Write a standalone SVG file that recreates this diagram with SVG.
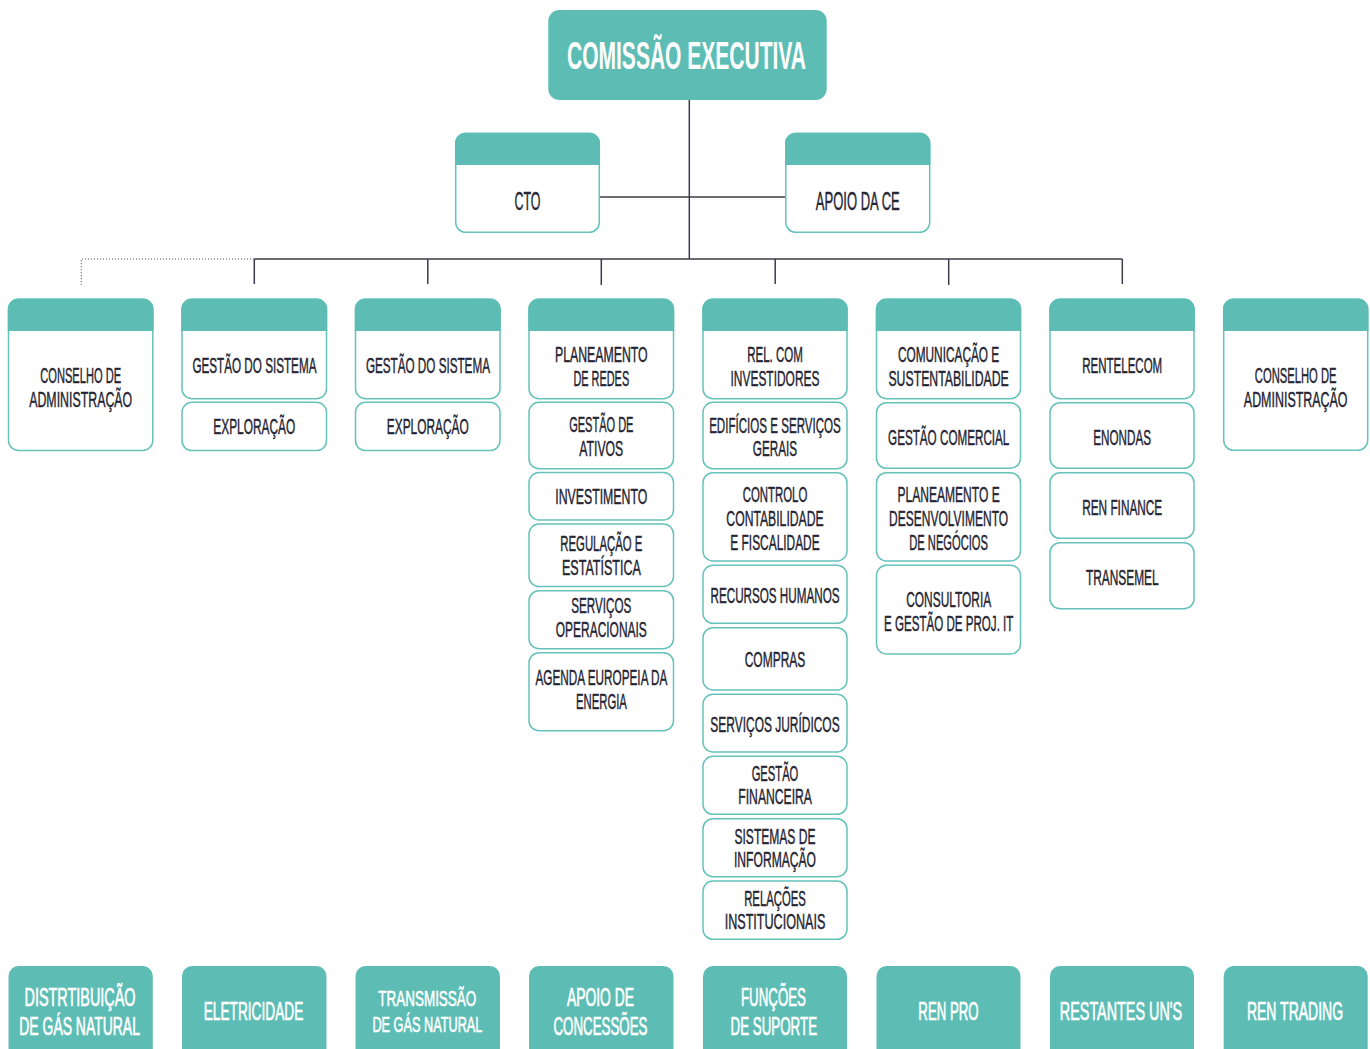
<svg xmlns="http://www.w3.org/2000/svg" width="1370" height="1049" viewBox="0 0 1370 1049">
<style>
.box{fill:#fff;stroke:#66c2ba;stroke-width:1.5}
.hd{fill:#5dbdb5}
.solid{fill:#5dbdb5}
text{transform-box:fill-box;transform-origin:center;transform:scaleX(.5)}
.t{font-family:"Liberation Sans",Arial,sans-serif;font-size:22px;fill:#262533;stroke:#262533;stroke-width:.45;text-anchor:middle}
.t2{font-family:"Liberation Sans",Arial,sans-serif;font-size:26px;fill:#262533;stroke:#262533;stroke-width:.45;text-anchor:middle}
.w{font-family:"Liberation Sans",Arial,sans-serif;font-size:26px;fill:#fff;stroke:#fff;stroke-width:.7;text-anchor:middle}
.ws{font-family:"Liberation Sans",Arial,sans-serif;font-size:22px;fill:#fff;stroke:#fff;stroke-width:.6;text-anchor:middle}
.ce{font-family:"Liberation Sans",Arial,sans-serif;font-size:38px;font-weight:bold;fill:#fff;text-anchor:middle}
.ln{stroke:#3b3a48;stroke-width:1.5;fill:none}
.dot{stroke:#555;stroke-width:1.2;stroke-dasharray:1 2;fill:none}
</style>

<g id="connectors">
<line class="ln" x1="689.3" y1="100" x2="689.3" y2="259"/>
<line class="ln" x1="599.5" y1="197" x2="785.5" y2="197"/>
<line class="ln" x1="254.3" y1="259" x2="1122.3" y2="259"/>
<line class="ln" x1="254.3" y1="259" x2="254.3" y2="284"/>
<line class="ln" x1="427.8" y1="259" x2="427.8" y2="284"/>
<line class="ln" x1="601.3" y1="259" x2="601.3" y2="285"/>
<line class="ln" x1="775.2" y1="259" x2="775.2" y2="284"/>
<line class="ln" x1="948.7" y1="259" x2="948.7" y2="285"/>
<line class="ln" x1="1122.3" y1="259" x2="1122.3" y2="284"/>
<polyline class="dot" points="254,259 81.3,259 81.3,285"/>
</g>

<g id="comissao">
<rect class="solid" x="548.3" y="10" width="278.4" height="90" rx="11"/>
<text class="ce" x="686.5" y="69" textLength="478" lengthAdjust="spacingAndGlyphs">COMISSÃO EXECUTIVA</text>
</g>

<g id="cto">
<rect class="box" x="455.7" y="133.3" width="143.6" height="99" rx="10"/>
<path class="hd" d="M455 165 V143.3 A10 10 0 0 1 465.7 133.3 H589.3 A10 10 0 0 1 600 143.3 V165 Z"/>
<text class="t2" x="527.5" y="210" textLength="52" lengthAdjust="spacingAndGlyphs">CTO</text>
</g>

<g id="apoio-ce">
<rect class="box" x="785.8" y="133.3" width="143.9" height="99" rx="10"/>
<path class="hd" d="M785 165 V143.3 A10 10 0 0 1 795.8 133.3 H919.7 A10 10 0 0 1 930.4 143.3 V165 Z"/>
<text class="t2" x="857.8" y="210" textLength="168" lengthAdjust="spacingAndGlyphs">APOIO DA CE</text>
</g>

<!-- Column 1 -->
<g id="conselho-1">
<rect class="box" x="8.5" y="299" width="144.3" height="151.5" rx="10"/>
<path class="hd" d="M7.8 331 V309 A10 10 0 0 1 18.5 299 H142.8 A10 10 0 0 1 153.5 309 V331 Z"/>
<text class="t" x="80.7" y="383.3" textLength="162" lengthAdjust="spacingAndGlyphs">CONSELHO DE</text>
<text class="t" x="80.7" y="407.3" textLength="206" lengthAdjust="spacingAndGlyphs">ADMINISTRAÇÃO</text>
</g>

<!-- Column 2 -->
<g id="gestao-sistema-1">
<rect class="box" x="182" y="299" width="144.5" height="99.7" rx="10"/>
<path class="hd" d="M181.3 331 V309 A10 10 0 0 1 192 299 H316.5 A10 10 0 0 1 327.2 309 V331 Z"/>
<text class="t" x="254.3" y="373.3" textLength="248" lengthAdjust="spacingAndGlyphs">GESTÃO DO SISTEMA</text>
</g>
<g id="exploracao-1">
<rect class="box" x="182" y="402.3" width="144.5" height="48.3" rx="10"/>
<text class="t" x="254.3" y="434.3" textLength="164" lengthAdjust="spacingAndGlyphs">EXPLORAÇÃO</text>
</g>

<!-- Column 3 -->
<g id="gestao-sistema-2">
<rect class="box" x="355.5" y="299" width="144.5" height="99.7" rx="10"/>
<path class="hd" d="M354.8 331 V309 A10 10 0 0 1 365.5 299 H490 A10 10 0 0 1 500.7 309 V331 Z"/>
<text class="t" x="427.8" y="373.3" textLength="248" lengthAdjust="spacingAndGlyphs">GESTÃO DO SISTEMA</text>
</g>
<g id="exploracao-2">
<rect class="box" x="355.5" y="402.3" width="144.5" height="48.3" rx="10"/>
<text class="t" x="427.8" y="434.3" textLength="164" lengthAdjust="spacingAndGlyphs">EXPLORAÇÃO</text>
</g>

<!-- Column 4 -->
<g id="planeamento-redes">
<rect class="box" x="529" y="299" width="144.5" height="99.7" rx="10"/>
<path class="hd" d="M528.3 331 V309 A10 10 0 0 1 539 299 H663.5 A10 10 0 0 1 674.2 309 V331 Z"/>
<text class="t" x="601.3" y="362.3" textLength="185.4" lengthAdjust="spacingAndGlyphs">PLANEAMENTO</text>
<text class="t" x="601.3" y="385.7" textLength="111.4" lengthAdjust="spacingAndGlyphs">DE REDES</text>
</g>
<g id="gestao-ativos">
<rect class="box" x="529" y="402.3" width="144.5" height="66.4" rx="10"/>
<text class="t" x="601.3" y="432.3" textLength="128.6" lengthAdjust="spacingAndGlyphs">GESTÃO DE</text>
<text class="t" x="601.3" y="455.7" textLength="88" lengthAdjust="spacingAndGlyphs">ATIVOS</text>
</g>
<g id="investimento">
<rect class="box" x="529" y="472.5" width="144.5" height="47.5" rx="10"/>
<text class="t" x="601.3" y="504" textLength="184" lengthAdjust="spacingAndGlyphs">INVESTIMENTO</text>
</g>
<g id="regulacao">
<rect class="box" x="529" y="524" width="144.5" height="62.5" rx="10"/>
<text class="t" x="601.3" y="550.7" textLength="164" lengthAdjust="spacingAndGlyphs">REGULAÇÃO E</text>
<text class="t" x="601.3" y="574.7" textLength="158" lengthAdjust="spacingAndGlyphs">ESTATÍSTICA</text>
</g>
<g id="servicos-operacionais">
<rect class="box" x="529" y="590.7" width="144.5" height="58" rx="10"/>
<text class="t" x="601.3" y="613.3" textLength="120" lengthAdjust="spacingAndGlyphs">SERVIÇOS</text>
<text class="t" x="601.3" y="637.3" textLength="182" lengthAdjust="spacingAndGlyphs">OPERACIONAIS</text>
</g>
<g id="agenda-europeia">
<rect class="box" x="529" y="652.7" width="144.5" height="78" rx="10"/>
<text class="t" x="601.3" y="685.3" textLength="264" lengthAdjust="spacingAndGlyphs">AGENDA EUROPEIA DA</text>
<text class="t" x="601.3" y="709.3" textLength="102" lengthAdjust="spacingAndGlyphs">ENERGIA</text>
</g>

<!-- Column 5 -->
<g id="rel-investidores">
<rect class="box" x="703" y="299" width="144" height="99.7" rx="10"/>
<path class="hd" d="M702.3 331 V309 A10 10 0 0 1 713 299 H837 A10 10 0 0 1 847.7 309 V331 Z"/>
<text class="t" x="775" y="362.3" textLength="111.4" lengthAdjust="spacingAndGlyphs">REL. COM</text>
<text class="t" x="775" y="385.7" textLength="178" lengthAdjust="spacingAndGlyphs">INVESTIDORES</text>
</g>
<g id="edificios">
<rect class="box" x="703" y="402.3" width="144" height="66.4" rx="10"/>
<text class="t" x="775" y="433.3" textLength="263.4" lengthAdjust="spacingAndGlyphs">EDIFÍCIOS E SERVIÇOS</text>
<text class="t" x="775" y="456.3" textLength="88.6" lengthAdjust="spacingAndGlyphs">GERAIS</text>
</g>
<g id="controlo">
<rect class="box" x="703" y="472.7" width="144" height="88.3" rx="10"/>
<text class="t" x="775" y="502.3" textLength="129.4" lengthAdjust="spacingAndGlyphs">CONTROLO</text>
<text class="t" x="775" y="525.7" textLength="194.6" lengthAdjust="spacingAndGlyphs">CONTABILIDADE</text>
<text class="t" x="775" y="549.7" textLength="178.6" lengthAdjust="spacingAndGlyphs">E FISCALIDADE</text>
</g>
<g id="recursos-humanos">
<rect class="box" x="703" y="565.3" width="144" height="58" rx="10"/>
<text class="t" x="775" y="602.7" textLength="258" lengthAdjust="spacingAndGlyphs">RECURSOS HUMANOS</text>
</g>
<g id="compras">
<rect class="box" x="703" y="627.7" width="144" height="62.3" rx="10"/>
<text class="t" x="775" y="666.7" textLength="121.4" lengthAdjust="spacingAndGlyphs">COMPRAS</text>
</g>
<g id="servicos-juridicos">
<rect class="box" x="703" y="694.3" width="144" height="57.7" rx="10"/>
<text class="t" x="775" y="731.7" textLength="258.6" lengthAdjust="spacingAndGlyphs">SERVIÇOS JURÍDICOS</text>
</g>
<g id="gestao-financeira">
<rect class="box" x="703" y="756.3" width="144" height="58" rx="10"/>
<text class="t" x="775" y="780.7" textLength="93.4" lengthAdjust="spacingAndGlyphs">GESTÃO</text>
<text class="t" x="775" y="804.3" textLength="147.4" lengthAdjust="spacingAndGlyphs">FINANCEIRA</text>
</g>
<g id="sistemas-informacao">
<rect class="box" x="703" y="818.7" width="144" height="58" rx="10"/>
<text class="t" x="775" y="844" textLength="162" lengthAdjust="spacingAndGlyphs">SISTEMAS DE</text>
<text class="t" x="775" y="867.3" textLength="164" lengthAdjust="spacingAndGlyphs">INFORMAÇÃO</text>
</g>
<g id="relacoes-institucionais">
<rect class="box" x="703" y="881" width="144" height="58.3" rx="10"/>
<text class="t" x="775" y="905.7" textLength="123.4" lengthAdjust="spacingAndGlyphs">RELAÇÕES</text>
<text class="t" x="775" y="929.3" textLength="201.4" lengthAdjust="spacingAndGlyphs">INSTITUCIONAIS</text>
</g>

<!-- Column 6 -->
<g id="comunicacao">
<rect class="box" x="876.5" y="299" width="144" height="99.7" rx="10"/>
<path class="hd" d="M875.8 331 V309 A10 10 0 0 1 886.5 299 H1010.5 A10 10 0 0 1 1021.2 309 V331 Z"/>
<text class="t" x="948.6" y="361.7" textLength="202.6" lengthAdjust="spacingAndGlyphs">COMUNICAÇÃO E</text>
<text class="t" x="948.6" y="385.7" textLength="240.6" lengthAdjust="spacingAndGlyphs">SUSTENTABILIDADE</text>
</g>
<g id="gestao-comercial">
<rect class="box" x="876.5" y="402.7" width="144" height="65.6" rx="10"/>
<text class="t" x="948.6" y="445" textLength="242.6" lengthAdjust="spacingAndGlyphs">GESTÃO COMERCIAL</text>
</g>
<g id="planeamento-negocios">
<rect class="box" x="876.5" y="472.7" width="144" height="88.3" rx="10"/>
<text class="t" x="948.6" y="502.3" textLength="204.6" lengthAdjust="spacingAndGlyphs">PLANEAMENTO E</text>
<text class="t" x="948.6" y="525.7" textLength="238" lengthAdjust="spacingAndGlyphs">DESENVOLVIMENTO</text>
<text class="t" x="948.6" y="549.7" textLength="157.4" lengthAdjust="spacingAndGlyphs">DE NEGÓCIOS</text>
</g>
<g id="consultoria">
<rect class="box" x="876.5" y="565.3" width="144" height="88.7" rx="10"/>
<text class="t" x="948.6" y="606.7" textLength="170" lengthAdjust="spacingAndGlyphs">CONSULTORIA</text>
<text class="t" x="948.6" y="630.7" textLength="258.6" lengthAdjust="spacingAndGlyphs">E GESTÃO DE PROJ. IT</text>
</g>

<!-- Column 7 -->
<g id="rentelecom">
<rect class="box" x="1050" y="299" width="144" height="99.7" rx="10"/>
<path class="hd" d="M1049.3 331 V309 A10 10 0 0 1 1060 299 H1184 A10 10 0 0 1 1194.7 309 V331 Z"/>
<text class="t" x="1122.2" y="373.3" textLength="160" lengthAdjust="spacingAndGlyphs">RENTELECOM</text>
</g>
<g id="enondas">
<rect class="box" x="1050" y="402.7" width="144" height="65.6" rx="10"/>
<text class="t" x="1122.2" y="445" textLength="115.4" lengthAdjust="spacingAndGlyphs">ENONDAS</text>
</g>
<g id="ren-finance">
<rect class="box" x="1050" y="472.7" width="144" height="65.6" rx="10"/>
<text class="t" x="1122.2" y="515" textLength="160" lengthAdjust="spacingAndGlyphs">REN FINANCE</text>
</g>
<g id="transemel">
<rect class="box" x="1050" y="542.7" width="144" height="66" rx="10"/>
<text class="t" x="1122.2" y="585" textLength="145.4" lengthAdjust="spacingAndGlyphs">TRANSEMEL</text>
</g>

<!-- Column 8 -->
<g id="conselho-2">
<rect class="box" x="1223.7" y="299" width="144" height="151.3" rx="10"/>
<path class="hd" d="M1223 331 V309 A10 10 0 0 1 1233.7 299 H1357.7 A10 10 0 0 1 1368.4 309 V331 Z"/>
<text class="t" x="1295.7" y="383.3" textLength="163.4" lengthAdjust="spacingAndGlyphs">CONSELHO DE</text>
<text class="t" x="1295.7" y="407.3" textLength="207.4" lengthAdjust="spacingAndGlyphs">ADMINISTRAÇÃO</text>
</g>

<!-- Bottom row -->
<g id="distribuicao-gas">
<path class="solid" d="M8.5 1060 V976 A10 10 0 0 1 18.5 966 H142.8 A10 10 0 0 1 152.8 976 V1060 Z"/>
<text class="w" x="80" y="1006.5" textLength="222" lengthAdjust="spacingAndGlyphs">DISTRTIBUIÇÃO</text>
<text class="w" x="79.6" y="1035" textLength="241.2" lengthAdjust="spacingAndGlyphs">DE GÁS NATURAL</text>
</g>
<g id="eletricidade">
<path class="solid" d="M182 1060 V976 A10 10 0 0 1 192 966 H316.5 A10 10 0 0 1 326.5 976 V1060 Z"/>
<text class="w" x="253.5" y="1020" textLength="199.2" lengthAdjust="spacingAndGlyphs">ELETRICIDADE</text>
</g>
<g id="transmissao-gas">
<path class="solid" d="M355.5 1060 V976 A10 10 0 0 1 365.5 966 H490 A10 10 0 0 1 500 976 V1060 Z"/>
<text class="ws" x="427.3" y="1006.5" textLength="196" lengthAdjust="spacingAndGlyphs">TRANSMISSÃO</text>
<text class="ws" x="427.3" y="1031.7" textLength="220" lengthAdjust="spacingAndGlyphs">DE GÁS NATURAL</text>
</g>
<g id="apoio-concessoes">
<path class="solid" d="M529 1060 V976 A10 10 0 0 1 539 966 H663.5 A10 10 0 0 1 673.5 976 V1060 Z"/>
<text class="w" x="600.5" y="1006.5" textLength="134" lengthAdjust="spacingAndGlyphs">APOIO DE</text>
<text class="w" x="600.5" y="1035" textLength="188" lengthAdjust="spacingAndGlyphs">CONCESSÕES</text>
</g>
<g id="funcoes-suporte">
<path class="solid" d="M703 1060 V976 A10 10 0 0 1 713 966 H837 A10 10 0 0 1 847 976 V1060 Z"/>
<text class="w" x="773.5" y="1006.5" textLength="130" lengthAdjust="spacingAndGlyphs">FUNÇÕES</text>
<text class="w" x="773.8" y="1035" textLength="173" lengthAdjust="spacingAndGlyphs">DE SUPORTE</text>
</g>
<g id="ren-pro">
<path class="solid" d="M876.5 1060 V976 A10 10 0 0 1 886.5 966 H1010.5 A10 10 0 0 1 1020.5 976 V1060 Z"/>
<text class="w" x="948.5" y="1020" textLength="120.6" lengthAdjust="spacingAndGlyphs">REN PRO</text>
</g>
<g id="restantes-uns">
<path class="solid" d="M1050 1060 V976 A10 10 0 0 1 1060 966 H1184 A10 10 0 0 1 1194 976 V1060 Z"/>
<text class="w" x="1121" y="1020" textLength="244.6" lengthAdjust="spacingAndGlyphs">RESTANTES UN'S</text>
</g>
<g id="ren-trading">
<path class="solid" d="M1223.7 1060 V976 A10 10 0 0 1 1233.7 966 H1357.7 A10 10 0 0 1 1367.7 976 V1060 Z"/>
<text class="w" x="1295" y="1020" textLength="192.4" lengthAdjust="spacingAndGlyphs">REN TRADING</text>
</g>
</svg>
